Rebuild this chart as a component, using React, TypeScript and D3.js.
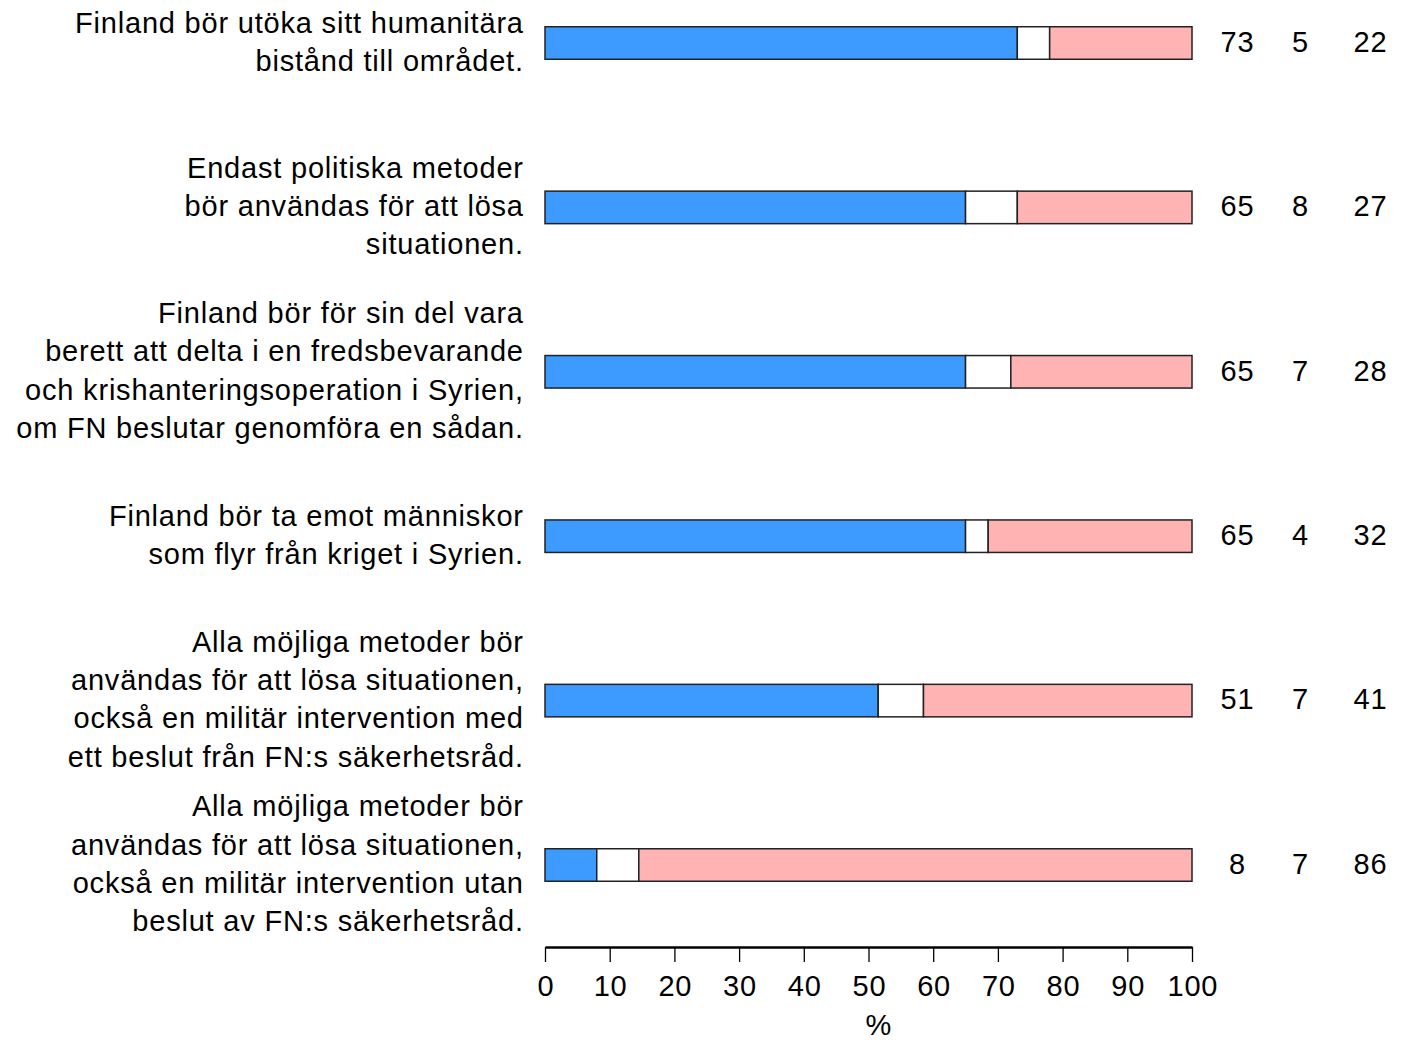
import React, { useEffect, useRef } from 'react';
import * as d3 from 'd3';

const statements = [
  ['Finland bör utöka sitt humanitära', 'bistånd till området.'],
  ['Endast politiska metoder', 'bör användas för att lösa', 'situationen.'],
  ['Finland bör för sin del vara', 'berett att delta i en fredsbevarande', 'och krishanteringsoperation i Syrien,', 'om FN beslutar genomföra en sådan.'],
  ['Finland bör ta emot människor', 'som flyr från kriget i Syrien.'],
  ['Alla möjliga metoder bör', 'användas för att lösa situationen,', 'också en militär intervention med', 'ett beslut från FN:s säkerhetsråd.'],
  ['Alla möjliga metoder bör', 'användas för att lösa situationen,', 'också en militär intervention utan', 'beslut av FN:s säkerhetsråd.'],
];

// segment lengths as drawn (percent)
const agree = [73, 65, 65, 65, 51.5, 8];
const neutral = [5, 8, 7, 3.5, 7, 6.5];
const disagree = [22, 27, 28, 31.5, 41.5, 85.5];

// printed numbers on the right
const agreeLabels = ['73', '65', '65', '65', '51', '8'];
const neutralLabels = ['5', '8', '7', '4', '7', '7'];
const disagreeLabels = ['22', '27', '28', '32', '41', '86'];

const xTicks = [0, 10, 20, 30, 40, 50, 60, 70, 80, 90, 100];

const colors = ['#3d9bff', '#ffffff', '#ffb3b3'];

const W = 1406;
const H = 1040;
const FONT = 'Liberation Sans, Arial, Helvetica, sans-serif';
const LS = 0.8; // the reference glyphs are set a bit wide

export default function App() {
  const svgRef = useRef<SVGSVGElement>(null);

  useEffect(() => {
    const svg = d3.select(svgRef.current);
    svg.selectAll('*').remove();

    const x = d3.scaleLinear().domain([0, 100]).range([545, 1192]);
    const y = d3.scalePoint<number>()
      .domain(statements.map((_, i) => i))
      .range([43, 865]);
    const barH = 32.5;
    const fs = 29;
    const lineH = 38.3;

    // bars
    statements.forEach((_, i) => {
      const segs = [agree[i], neutral[i], disagree[i]];
      let start = 0;
      segs.forEach((v, j) => {
        svg.append('rect')
          .attr('x', x(start))
          .attr('y', y(i)! - barH / 2)
          .attr('width', x(start + v) - x(start))
          .attr('height', barH)
          .attr('fill', colors[j])
          .attr('stroke', '#222')
          .attr('stroke-width', 1.5);
        start += v;
      });
    });

    // statement labels, centred on the bar
    statements.forEach((lines, i) => {
      const top = y(i)! - ((lines.length - 1) * lineH) / 2;
      lines.forEach((line, k) => {
        svg.append('text')
          .attr('x', 523 + LS)
          .attr('y', top + k * lineH)
          .attr('dy', '0.3em')
          .attr('text-anchor', 'end')
          .attr('font-family', FONT)
          .attr('font-size', fs)
          .attr('letter-spacing', LS)
          .attr('fill', '#000')
          .text(line);
      });
    });

    // numbers on the right
    const cols: [string[], number][] = [
      [agreeLabels, 1237],
      [neutralLabels, 1300],
      [disagreeLabels, 1370],
    ];
    cols.forEach(([labels, cx]) => {
      labels.forEach((t, i) => {
        svg.append('text')
          .attr('x', cx + LS / 2)
          .attr('y', y(i)!)
          .attr('dy', '0.3em')
          .attr('text-anchor', 'middle')
          .attr('font-family', FONT)
          .attr('font-size', fs)
          .attr('letter-spacing', LS)
          .text(t);
      });
    });

    // x axis
    const axis = svg.append('g')
      .attr('transform', 'translate(0, 947)')
      .call(d3.axisBottom(x).tickValues(xTicks).tickSize(15).tickSizeOuter(0).tickPadding(13));
    axis.select('.domain').attr('stroke', '#000').attr('stroke-width', 2.5);
    axis.selectAll('.tick line').attr('stroke', '#000').attr('stroke-width', 1.3);
    axis.selectAll('.tick text')
      .attr('font-family', FONT)
      .attr('font-size', fs)
      .attr('letter-spacing', LS)
      .attr('dx', LS / 2)
      .attr('fill', '#000');

    svg.append('text')
      .attr('x', 878.5)
      .attr('y', 1035)
      .attr('text-anchor', 'middle')
      .attr('font-family', FONT)
      .attr('font-size', fs)
      .text('%');
  }, []);

  return (
    <svg
      ref={svgRef}
      width={W}
      height={H}
      style={{ position: 'absolute', left: 0, top: 0, background: '#fff' }}
    />
  );
}
